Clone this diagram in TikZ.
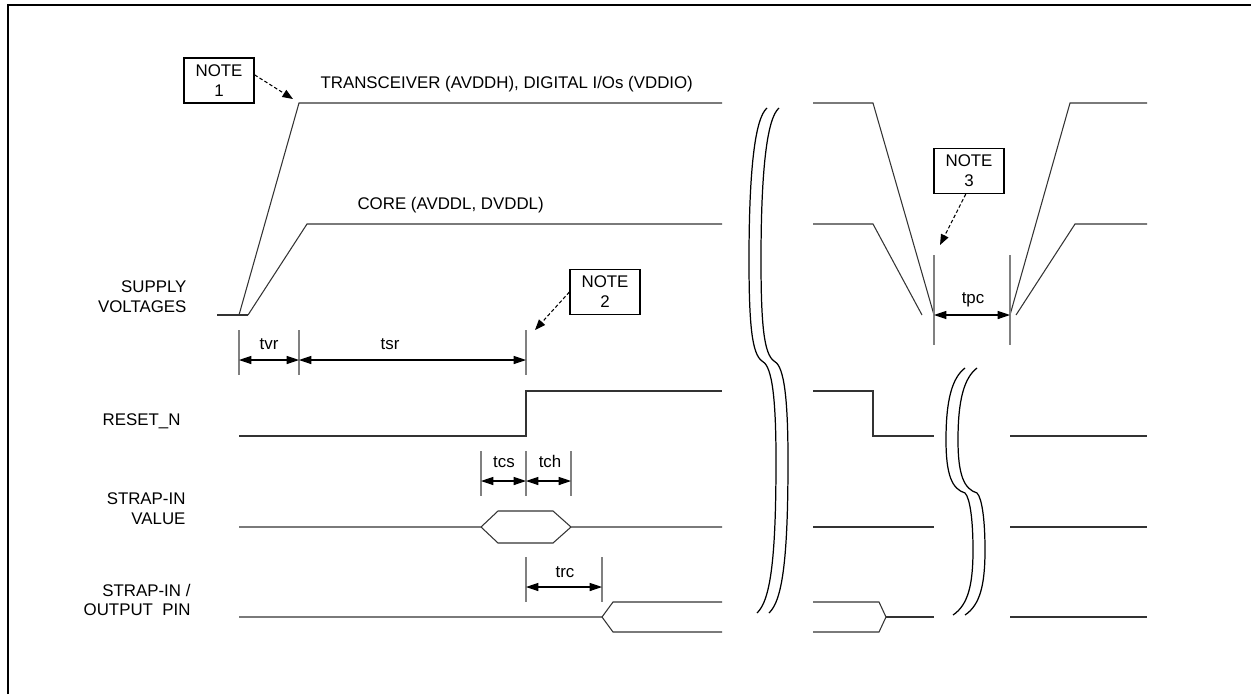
\documentclass[tikz,border=0pt]{standalone}
\usepackage{fontspec}
\setmainfont{Liberation Sans}
\usetikzlibrary{arrows.meta}

\begin{document}
\begin{tikzpicture}[x=0.02cm, y=-0.02cm, line width=0.6pt,
    font=\fontsize{9.6}{11.3}\selectfont,
    wave/.style={black!80},
    ext/.style={black!50},
    brk/.style={black, line width=0.7pt},
    dimarrow/.style={black, {Triangle[length=7pt,width=4.6pt]}-{Triangle[length=7pt,width=4.6pt]}},
    notearrow/.style={black, dash pattern=on 2pt off 1.3pt, -{Triangle[length=6pt,width=4.6pt]}},
    notebox/.style={draw, line width=0.7pt, align=center, minimum width=1.4cm, minimum height=0.9cm, inner sep=0pt},
    lbl/.style={inner sep=0pt}]

    \useasboundingbox (0,0) rectangle (1251,694);

    % ==========================================
    % Frame (only top and left edges are in view)
    % ==========================================
    \draw[line width=1.5pt] (8,694) -- (8,5) -- (1251,5);

    % ==========================================
    % 1. Supply voltages
    % ==========================================
    \draw[wave] (217,315) -- (248,315);
    \draw[wave] (239,315) -- (299,103) -- (722,103);
    \draw[wave] (248,315) -- (307,224) -- (722,224);
    % power cycle after the break
    \draw[wave] (813,103) -- (873,103) -- (934,315);
    \draw[wave] (813,224) -- (873,224) -- (922,315);
    \draw[wave] (1010,315) -- (1070,103) -- (1147,103);
    \draw[wave] (1016,315) -- (1075,224) -- (1147,224);

    \node[lbl, anchor=base west] (avddh) at (320,88) {TRANSCEIVER (AVDDH), DIGITAL I/Os (VDDIO)};
    \node[lbl, anchor=base west] (core) at (357,209) {CORE (AVDDL, DVDDL)};
    \node[lbl, anchor=east, align=right] (supply) at (187,296.5) {SUPPLY\\VOLTAGES};

    % ==========================================
    % 2. RESET_N
    % ==========================================
    \draw[wave] (239,436) -- (526,436) -- (526,391) -- (722,391);
    \draw[wave] (813,391) -- (873,391) -- (873,436) -- (934,436);
    \draw[wave] (1010,436) -- (1147,436);
    \node[lbl, anchor=base east] (reset) at (181,425) {RESET\_N};

    % ==========================================
    % 3. Strap-in value
    % ==========================================
    \draw[wave] (239,527) -- (481,527) -- (498,511) -- (553,511) -- (571,527) -- (722,527);
    \draw[wave] (481,527) -- (498,543) -- (553,543) -- (571,527);
    \draw[wave] (813,527) -- (934,527);
    \draw[wave] (1010,527) -- (1147,527);
    \node[lbl, anchor=east, align=right] (strapval) at (186,509) {STRAP-IN\\VALUE};

    % ==========================================
    % 4. Strap-in / output pin
    % ==========================================
    \draw[wave] (239,617) -- (602,617) -- (613,602) -- (722,602);
    \draw[wave] (602,617) -- (613,632) -- (722,632);
    \draw[wave] (813,602) -- (879,602) -- (886,617) -- (879,632) -- (813,632);
    \draw[wave] (886,617) -- (934,617);
    \draw[wave] (1010,617) -- (1147,617);
    \node[lbl, anchor=east, align=right] (strapout) at (191,600) {STRAP-IN /\\OUTPUT\ \ PIN};

    % ==========================================
    % 5. Time breaks (double wavy marks)
    % ==========================================
    \foreach \d in {0,12} {
        \draw[brk] ({767+\d},108) .. controls ({755+\d},118) and ({749+\d},170) .. ({749+\d},260)
            .. controls ({749+\d},325) and ({752+\d},354) .. ({762+\d},361)
            .. controls ({770+\d},365) and ({776+\d},385) .. ({776+\d},460)
            .. controls ({776+\d},555) and ({771+\d},600) .. ({757+\d},613);
        \draw[brk] ({965+\d},368) .. controls ({952+\d},378) and ({946+\d},400) .. ({946+\d},440)
            .. controls ({946+\d},475) and ({952+\d},489) .. ({965+\d},493)
            .. controls ({970+\d},498) and ({973+\d},520) .. ({973+\d},550)
            .. controls ({973+\d},585) and ({968+\d},605) .. ({953+\d},615);
    }

    % ==========================================
    % 6. Timing dimensions
    % ==========================================
    \draw[ext] (239,330) -- (239,375) (299,330) -- (299,375) (526,330) -- (526,375);
    \draw[ext] (481,451) -- (481,496) (526,451) -- (526,496) (571,451) -- (571,496);
    \draw[ext] (526,557) -- (526,602) (602,557) -- (602,602);
    \draw[ext] (934,255) -- (934,345) (1010,255) -- (1010,345);

    \coordinate (tvrA) at (239,360);
    \coordinate (tvrB) at (299,360);
    \coordinate (tsrB) at (526,360);
    \coordinate (tcsA) at (481,481);
    \coordinate (tcsB) at (526,481);
    \coordinate (tchB) at (571,481);
    \coordinate (trcA) at (526,587);
    \coordinate (trcB) at (602,587);
    \coordinate (tpcA) at (934,315);
    \coordinate (tpcB) at (1010,315);

    \draw[dimarrow] (tvrA) -- (tvrB);
    \draw[dimarrow] (tvrB) -- (tsrB);
    \draw[dimarrow] (tcsA) -- (tcsB);
    \draw[dimarrow] (tcsB) -- (tchB);
    \draw[dimarrow] (trcA) -- (trcB);
    \draw[dimarrow] (tpcA) -- (tpcB);

    \node[lbl, anchor=base] (tvr) at (269,349) {tvr};
    \node[lbl, anchor=base] (tsr) at (390,349) {tsr};
    \node[lbl, anchor=base] (tcs) at (504,467) {tcs};
    \node[lbl, anchor=base] (tch) at (550,467) {tch};
    \node[lbl, anchor=base] (trc) at (565,577) {trc};
    \node[lbl, anchor=base] (tpc) at (973,303) {tpc};

    % ==========================================
    % 7. Notes
    % ==========================================
    \node[notebox] (note1) at (219,80.5) {NOTE\\1};
    \node[notebox] (note2) at (605,292) {NOTE\\2};
    \node[notebox] (note3) at (969,171) {NOTE\\3};

    \coordinate (n1tip) at (293,99);
    \coordinate (n2tip) at (535,330);
    \coordinate (n3tip) at (940,245);

    \draw[notearrow] (note1.9) -- (n1tip);
    \draw[notearrow] (note2.west) -- (n2tip);
    \draw[notearrow] (note3.262) -- (n3tip);

\end{tikzpicture}
\end{document}
